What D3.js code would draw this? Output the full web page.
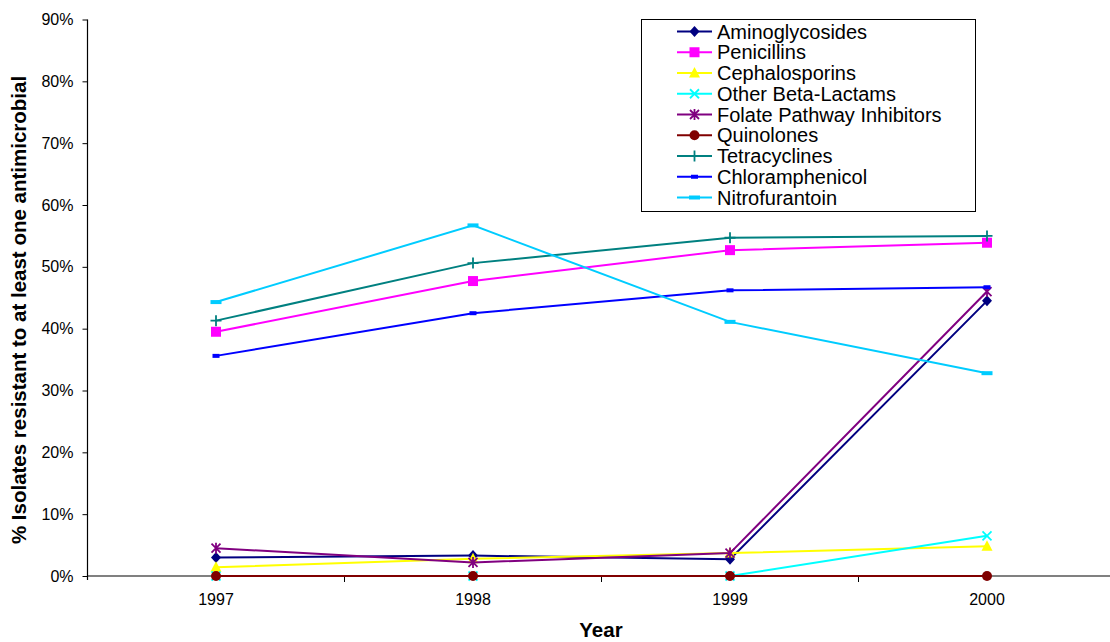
<!DOCTYPE html>
<html>
<head>
<meta charset="utf-8">
<script src="https://cdn.jsdelivr.net/npm/d3@7"></script>
<style>
  html, body { margin: 0; padding: 0; background: #fff; }
  svg { display: block; font-family: "Liberation Sans", Arial, sans-serif; }
</style>
</head>
<body>
<svg id="chart" width="1110" height="642"></svg>
<script>
// Years on the category axis
const years = ["1997", "1998", "1999", "2000"];

// Percent of isolates resistant, one array per antimicrobial class
const aminoglycosides   = [3.0, 3.3, 2.7, 44.5];
const penicillins       = [39.5, 47.7, 52.7, 53.9];
const cephalosporins    = [1.4, 2.8, 3.7, 4.8];
const otherBetaLactams  = [0.0, 0.0, 0.0, 6.5];
const folateInhibitors  = [4.5, 2.2, 3.7, 46.0];
const quinolones        = [0.0, 0.0, 0.0, 0.0];
const tetracyclines     = [41.3, 50.6, 54.7, 55.0];
const chloramphenicol   = [35.6, 42.5, 46.2, 46.7];
const nitrofurantoin    = [44.3, 56.7, 41.1, 32.8];

// Y tick values (percent)
const yTicks = [0, 10, 20, 30, 40, 50, 60, 70, 80, 90];

const series = [
  { name: "Aminoglycosides",            values: aminoglycosides,  color: "#000080", marker: "diamond" },
  { name: "Penicillins",                values: penicillins,      color: "#FF00FF", marker: "square" },
  { name: "Cephalosporins",             values: cephalosporins,   color: "#FFFF00", marker: "triangle" },
  { name: "Other Beta-Lactams",         values: otherBetaLactams, color: "#00FFFF", marker: "x" },
  { name: "Folate Pathway Inhibitors",  values: folateInhibitors, color: "#800080", marker: "star" },
  { name: "Quinolones",                 values: quinolones,       color: "#800000", marker: "circle" },
  { name: "Tetracyclines",              values: tetracyclines,    color: "#008080", marker: "plus" },
  { name: "Chloramphenicol",            values: chloramphenicol,  color: "#0000FF", marker: "dash" },
  { name: "Nitrofurantoin",             values: nitrofurantoin,   color: "#00CCFF", marker: "longdash" }
];

const svg = d3.select("#chart");

const plotLeft = 87.5, plotTop = 19.5, plotBottom = 576;
const x = d3.scaleBand().domain(years).range([plotLeft, plotLeft + 4 * 257]).padding(0);
const y = d3.scaleLinear().domain([0, 90]).range([plotBottom, plotTop]);
const cx = d => x(d) + x.bandwidth() / 2;

// Marker glyphs centred on (0,0)
function drawMarker(g, type, color) {
  switch (type) {
    case "diamond":
      g.append("path").attr("d", "M0,-5.5L5,0L0,5.5L-5,0Z").attr("fill", color); break;
    case "square":
      g.append("rect").attr("x", -5).attr("y", -5).attr("width", 10).attr("height", 10).attr("fill", color); break;
    case "triangle":
      g.append("path").attr("d", "M0,-6L5.5,4.5L-5.5,4.5Z").attr("fill", color); break;
    case "x":
      g.append("path").attr("d", "M-4.5,-4.5L4.5,4.5M-4.5,4.5L4.5,-4.5")
        .attr("stroke", color).attr("stroke-width", 1.8).attr("fill", "none"); break;
    case "star":
      g.append("path").attr("d", "M-4.5,-4.5L4.5,4.5M-4.5,4.5L4.5,-4.5M0,-5.5L0,5.5")
        .attr("stroke", color).attr("stroke-width", 1.8).attr("fill", "none"); break;
    case "circle":
      g.append("circle").attr("r", 5).attr("fill", color); break;
    case "plus":
      g.append("path").attr("d", "M-5.5,0L5.5,0M0,-5.5L0,5.5")
        .attr("stroke", color).attr("stroke-width", 1.8).attr("fill", "none"); break;
    case "dash":
      g.append("rect").attr("x", -3.5).attr("y", -2).attr("width", 7).attr("height", 4).attr("fill", color); break;
    case "longdash":
      g.append("rect").attr("x", -5.5).attr("y", -2).attr("width", 11).attr("height", 4).attr("fill", color); break;
  }
}

// X axis line (grey) and category separators
svg.append("line")
  .attr("x1", plotLeft).attr("x2", 1110).attr("y1", plotBottom).attr("y2", plotBottom)
  .attr("stroke", "#808080").attr("stroke-width", 2);
svg.append("g").selectAll("line").data(years.slice(1)).join("line")
  .attr("x1", d => x(d)).attr("x2", d => x(d))
  .attr("y1", plotBottom).attr("y2", plotBottom + 6)
  .attr("stroke", "#000").attr("stroke-width", 1);

// X tick labels
const xAxis = svg.append("g")
  .attr("transform", `translate(0,${plotBottom})`)
  .call(d3.axisBottom(x).tickSize(0).tickPadding(18));
xAxis.select(".domain").remove();
xAxis.selectAll("text").attr("font-size", 16).attr("font-family", "Liberation Sans, Arial, sans-serif").attr("fill", "#000");

// Y axis
const yAxis = svg.append("g")
  .attr("transform", `translate(${plotLeft},0)`)
  .call(d3.axisLeft(y).tickValues(yTicks).tickSize(5).tickPadding(9).tickFormat(d => d + "%"));
yAxis.select(".domain").attr("d", `M0,${plotTop}V${plotBottom + 4}`).attr("stroke", "#000").attr("stroke-width", 1.2);
yAxis.selectAll(".tick line").attr("stroke", "#000");
yAxis.selectAll("text").attr("font-size", 16).attr("font-family", "Liberation Sans, Arial, sans-serif").attr("fill", "#000");

// Series lines and markers
const line = d3.line().x((d, i) => cx(years[i])).y(d => y(d));
series.forEach(s => {
  svg.append("path")
    .attr("d", line(s.values))
    .attr("fill", "none").attr("stroke", s.color).attr("stroke-width", 2);
  s.values.forEach((v, i) => {
    const g = svg.append("g").attr("transform", `translate(${cx(years[i])},${y(v)})`);
    drawMarker(g, s.marker, s.color);
  });
});

// Axis titles
svg.append("text")
  .attr("x", 601).attr("y", 637)
  .attr("text-anchor", "middle")
  .attr("font-size", 20.5).attr("font-weight", "bold")
  .text("Year");
svg.append("text")
  .attr("transform", "translate(26,310) rotate(-90)")
  .attr("text-anchor", "middle")
  .attr("font-size", 20.5).attr("font-weight", "bold")
  .text("% Isolates resistant to at least one antimicrobial");

// Legend
const legend = svg.append("g");
legend.append("rect")
  .attr("x", 641.5).attr("y", 19.5).attr("width", 334).attr("height", 192)
  .attr("fill", "#fff").attr("stroke", "#000").attr("stroke-width", 1);
series.forEach((s, i) => {
  const ly = 31.5 + i * 20.75;
  const row = legend.append("g");
  row.append("line").attr("x1", 677).attr("x2", 712).attr("y1", ly).attr("y2", ly)
    .attr("stroke", s.color).attr("stroke-width", 2);
  const g = row.append("g").attr("transform", `translate(694.5,${ly})`);
  drawMarker(g, s.marker, s.color);
  row.append("text").attr("x", 717).attr("y", ly).attr("dy", "0.35em")
    .attr("font-size", 20).attr("fill", "#000").text(s.name);
});
</script>
</body>
</html>
